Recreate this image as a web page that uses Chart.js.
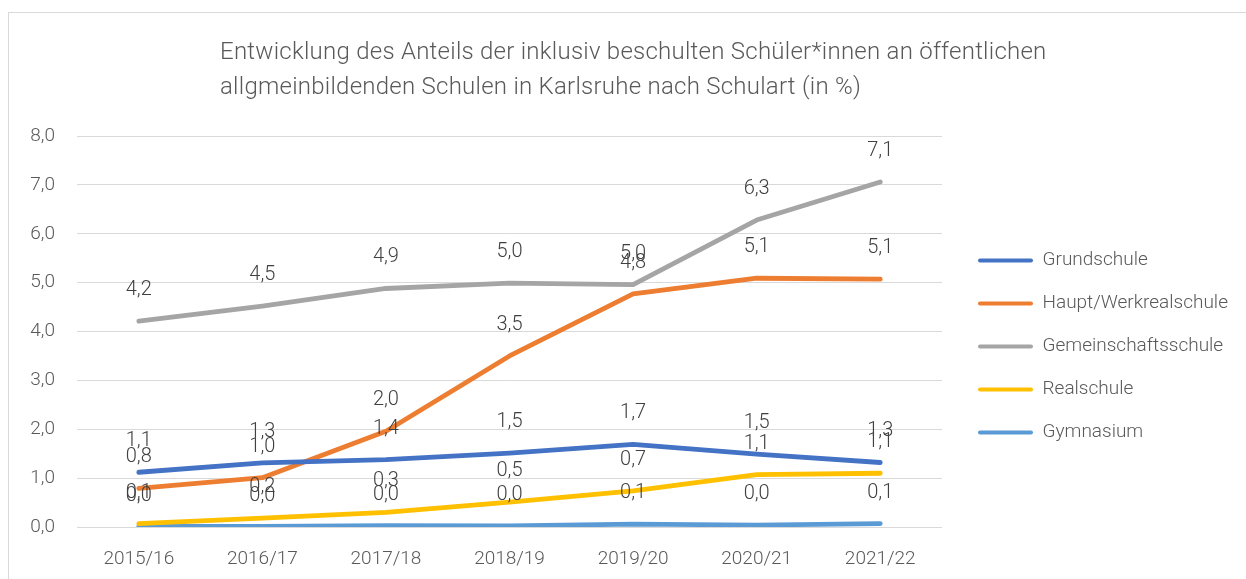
<!DOCTYPE html>
<html>
<head>
<meta charset="utf-8">
<script src="https://cdn.jsdelivr.net/npm/chart.js@4.4.1/dist/chart.umd.min.js"></script>
<style>
  html, body { margin: 0; padding: 0; background: #ffffff; }
  #wrap { position: relative; width: 1246px; height: 579px; overflow: hidden; background: #fff; }
  #frame { position: absolute; left: 8px; top: 12px; width: 1300px; height: 700px; border: 1px solid #D9D9D9; box-sizing: border-box; }
  #title { position: absolute; left: 220px; top: 34px; font-family: Roboto, sans-serif; font-weight: 300; font-size: 24px; letter-spacing: 0.25px; line-height: 35px; color: #595959; white-space: nowrap; }
  #c { position: absolute; left: 0; top: 0; }
</style>
</head>
<body>
<div id="wrap">
  <div id="frame"></div>
  <canvas id="c" width="1246" height="579"></canvas>
  <div id="title">Entwicklung des Anteils der inklusiv beschulten Schüler*innen an öffentlichen<br>allgmeinbildenden Schulen in Karlsruhe nach Schulart (in %)</div>
</div>
<script>
const categories = ["2015/16", "2016/17", "2017/18", "2018/19", "2019/20", "2020/21", "2021/22"];
const grundschule = [1.12, 1.31, 1.38, 1.51, 1.69, 1.49, 1.32];
const hauptWerkrealschule = [0.79, 1.01, 1.96, 3.50, 4.77, 5.09, 5.07];
const gemeinschaftsschule = [4.21, 4.52, 4.88, 4.99, 4.96, 6.28, 7.06];
const realschule = [0.07, 0.18, 0.30, 0.51, 0.74, 1.07, 1.10];
const gymnasium = [0.01, 0.01, 0.03, 0.02, 0.06, 0.04, 0.07];
const yTicks = [0, 1, 2, 3, 4, 5, 6, 7, 8];

const seriesNames = ["Grundschule", "Haupt/Werkrealschule", "Gemeinschaftsschule", "Realschule", "Gymnasium"];
const seriesColors = ["#4472C4", "#ED7D31", "#A5A5A5", "#FFC000", "#5B9BD5"];
const seriesData = [grundschule, hauptWerkrealschule, gemeinschaftsschule, realschule, gymnasium];

const FONT = "Roboto, sans-serif";
const fmt = v => v.toFixed(1).replace('.', ',');

const dataLabels = {
  id: 'dataLabels',
  afterDatasetsDraw(chart) {
    const ctx = chart.ctx;
    ctx.save();
    ctx.font = "300 20px " + FONT;
    ctx.fillStyle = "#404040";
    ctx.textAlign = "center";
    ctx.textBaseline = "middle";
    chart.data.datasets.forEach((ds, i) => {
      const meta = chart.getDatasetMeta(i);
      meta.data.forEach((pt, j) => {
        ctx.fillText(fmt(ds.data[j]), pt.x, pt.y - 31);
      });
    });
    ctx.restore();
  }
};
const legendShift = {
  id: 'legendShift',
  afterLayout(chart) {
    const lg = chart.legend;
    const dx = 978 - (lg.left + lg.options.labels.padding);
    lg.left += dx; lg.right += dx;
    lg.top -= 11; lg.bottom -= 11;
  }
};

new Chart(document.getElementById('c'), {
  type: 'line',
  data: {
    labels: categories,
    datasets: seriesData.map((d, i) => ({
      label: seriesNames[i],
      data: d,
      borderColor: seriesColors[i],
      backgroundColor: seriesColors[i],
      borderWidth: 4.8,
      pointRadius: 0,
      borderCapStyle: 'round',
      borderJoinStyle: 'round',
      tension: 0,
      fill: false
    }))
  },
  options: {
    responsive: false,
    animation: false,
    layout: { padding: { top: 136, left: 0, bottom: 0, right: 20 } },
    plugins: {
      title: { display: false },
      tooltip: { enabled: false },
      legend: {
        position: 'right',
        labels: {
          boxWidth: 55,
          boxHeight: 4,
          useBorderRadius: true,
          borderRadius: 2,
          padding: 24,
          color: '#595959',
          font: { family: FONT, size: 19, weight: 300 },
          generateLabels(chart) {
            return chart.data.datasets.map((ds, i) => ({
              text: ds.label, fillStyle: ds.borderColor, strokeStyle: ds.borderColor,
              lineWidth: 0, datasetIndex: i, fontColor: '#595959', borderRadius: 2
            }));
          }
        }
      }
    },
    scales: {
      x: {
        offset: true,
        grid: { display: false },
        border: { display: false },
        ticks: { color: '#595959', font: { family: FONT, size: 19, weight: 300 }, padding: 13, maxRotation: 0 },
        afterFit(s) { s.height = 52; }
      },
      y: {
        min: 0, max: 8,
        afterBuildTicks(s) { s.ticks = yTicks.map(v => ({ value: v })); },
        grid: { color: '#D9D9D9', lineWidth: 1, drawTicks: false },
        border: { display: false },
        ticks: { color: '#595959', font: { family: FONT, size: 19, weight: 300 }, padding: 22, callback: v => fmt(v) },
        afterFit(s) { s.width = 77; }
      }
    }
  },
  plugins: [dataLabels, legendShift]
});
</script>
</body>
</html>
